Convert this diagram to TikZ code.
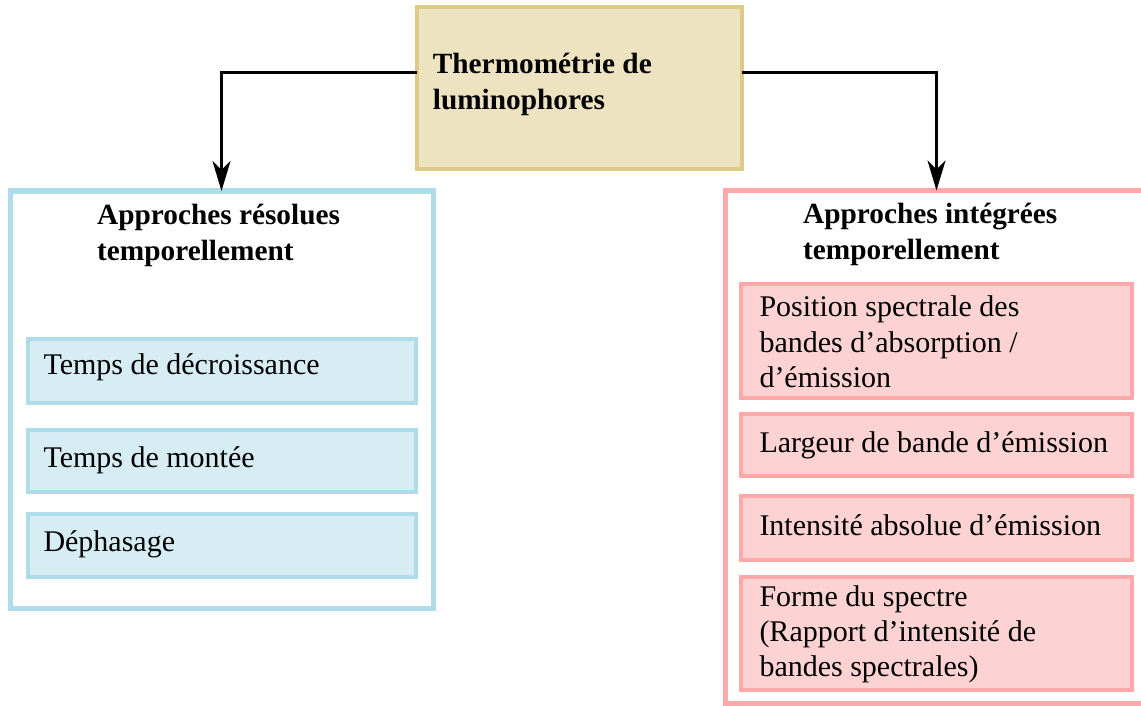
\documentclass[tikz,border=0pt]{standalone}
\usepackage{fontspec}
\setmainfont{Liberation Serif}
\usetikzlibrary{arrows.meta,calc}
\definecolor{goldfill}{HTML}{EDE3C0}
\definecolor{goldline}{HTML}{DDCA86}
\definecolor{bluefill}{HTML}{D5EDF3}
\definecolor{blueline}{HTML}{AEDCE8}
\definecolor{pinkfill}{HTML}{FDD2D3}
\definecolor{pinkline}{HTML}{FFA8A9}
\begin{document}
\begin{tikzpicture}[x=1pt,y=-1pt,
  box/.style={draw, inner sep=0pt, outer sep=0pt, anchor=north west},
  topbox/.style={box, fill=goldfill, draw=goldline, line width=4pt},
  bluebig/.style={box, fill=white, draw=blueline, line width=5pt},
  pinkbig/.style={box, fill=white, draw=pinkline, line width=5pt},
  blueitem/.style={box, fill=bluefill, draw=blueline, line width=4pt},
  pinkitem/.style={box, fill=pinkfill, draw=pinkline, line width=4pt},
  title/.style={anchor=base west, inner sep=0pt, align=left, font=\fontsize{29.3}{36}\selectfont\bfseries},
  item/.style={anchor=base west, inner sep=0pt, align=left, font=\fontsize{30}{35.3}\selectfont},
  conn/.style={draw=black, line width=3pt, -{Stealth[length=30pt,width=18pt,inset=9pt]}}
]
\useasboundingbox (0,0) rectangle (1141,706);
\clip (0,0) rectangle (1141,706);

% boxes
\node[topbox, minimum width=324.5pt, minimum height=161.5pt] (T) at (417,7.5) {};
\node[bluebig, minimum width=423pt, minimum height=417pt] (L) at (10,191) {};
\node[pinkbig, minimum width=423pt, minimum height=512.5pt] (R) at (725,190.5) {};

\node[blueitem, minimum width=388pt, minimum height=63.8pt] (L1) at (27.5,338.7) {};
\node[blueitem, minimum width=388pt, minimum height=62pt] (L2) at (27.5,430) {};
\node[blueitem, minimum width=388pt, minimum height=63pt] (L3) at (27.5,514) {};

\node[pinkitem, minimum width=391.2pt, minimum height=114pt] (R1) at (740.5,284) {};
\node[pinkitem, minimum width=391.2pt, minimum height=62.5pt] (R2) at (740.5,413.5) {};
\node[pinkitem, minimum width=391.2pt, minimum height=64pt] (R3) at (740.5,495.5) {};
\node[pinkitem, minimum width=391.2pt, minimum height=113.5pt] (R4) at (740.5,576.5) {};

% texts (base anchor = baseline of the last line)
\node[title] (tT) at (432.7,109.5) {Thermométrie de\\luminophores};
\node[title] (tL) at (97,260) {Approches résolues\\temporellement};
\node[title] (tR) at (803,259) {Approches intégrées\\temporellement};

\node[item] (tL1) at (43.3,374) {Temps de décroissance};
\node[item] (tL2) at (43.3,467) {Temps de montée};
\node[item] (tL3) at (43.3,551.7) {Déphasage};

\node[item] (tR1) at (759.3,387.5) {Position spectrale des\\bandes d’absorption /\\d’émission};
\node[item] (tR2) at (759.3,452) {Largeur de bande d’émission};
\node[item] (tR3) at (759.3,535) {Intensité absolue d’émission};
\node[item] (tR4) at (759.3,676.6) {Forme du spectre\\(Rapport d’intensité de\\bandes spectrales)};

% connectors
\draw[conn] ($(T.north west)+(0,65.5)$) -| (L.north);
\draw[conn] ($(T.north east)+(0,65.5)$) -| (R.north);
\end{tikzpicture}
\end{document}
